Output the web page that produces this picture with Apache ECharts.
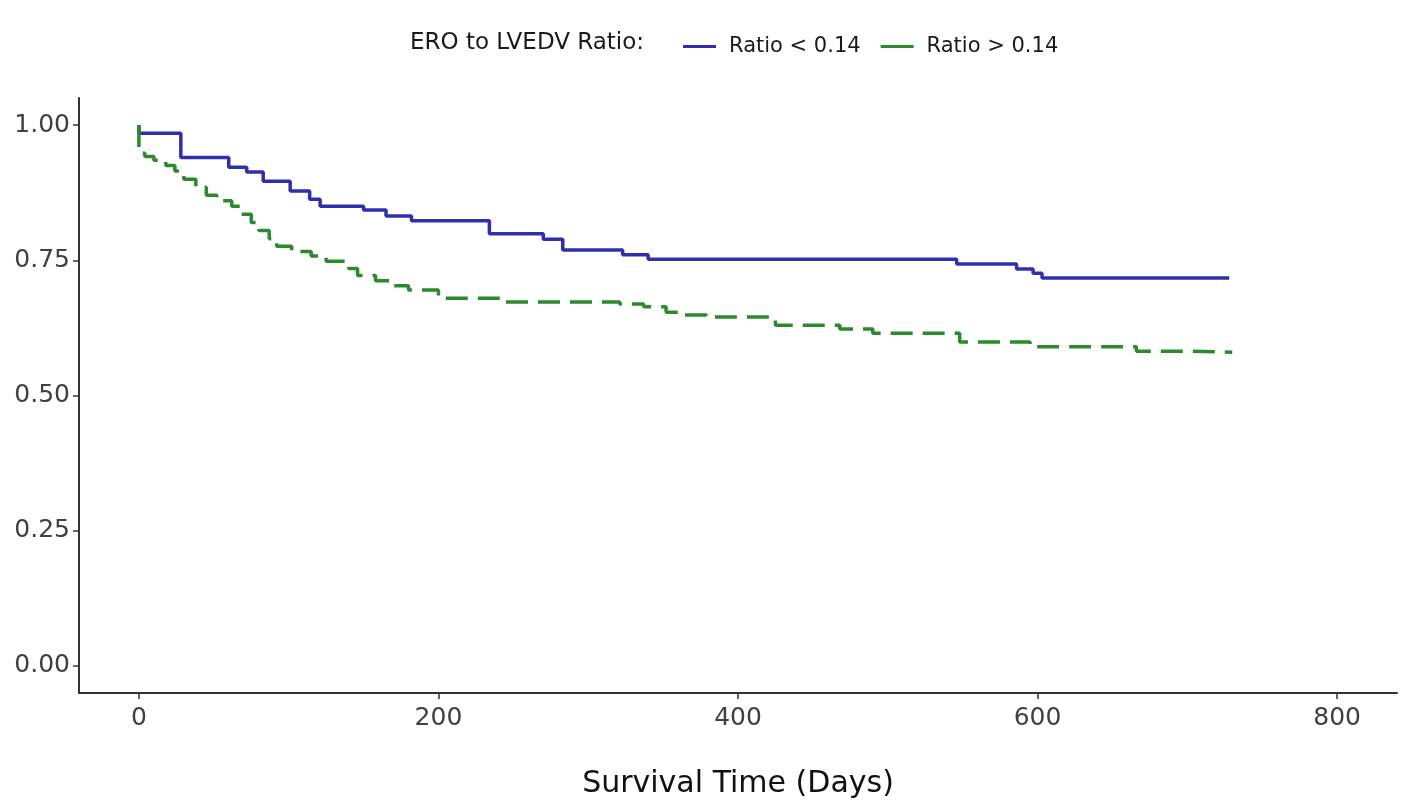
<!DOCTYPE html>
<html>
<head>
<meta charset="utf-8">
<script src="https://cdn.jsdelivr.net/npm/echarts@6/dist/echarts.min.js"></script>
<style>
html,body{margin:0;padding:0;background:#fff;}
#chart{width:1417px;height:808px;}
</style>
</head>
<body>
<div id="chart"></div>
<script>
// ---- Data ----
const legendTitle = 'ERO to LVEDV Ratio:';
const seriesNames = ['Ratio < 0.14', 'Ratio > 0.14'];

const lowTime = [0, 0, 28, 60, 72, 83, 101, 114, 121, 150, 165, 182, 234, 270, 283, 323, 340, 546, 586, 597, 603, 728];
const lowSurv = [1.0, 0.985, 0.940, 0.922, 0.913, 0.896, 0.878, 0.863, 0.850, 0.843, 0.832, 0.823, 0.799, 0.789, 0.769, 0.760, 0.752, 0.743, 0.734, 0.726, 0.717, 0.717];

const highTime = [0, 0, 4, 10, 18, 24, 30, 38, 45, 52, 62, 68, 75, 80, 87, 92, 102, 115, 125, 140, 146, 158, 170, 180, 200, 243, 321, 337, 352, 361, 379, 425, 468, 490, 548, 595, 666, 700, 730];
const highSurv = [1.0, 0.948, 0.942, 0.935, 0.925, 0.915, 0.900, 0.885, 0.870, 0.860, 0.850, 0.835, 0.820, 0.805, 0.790, 0.776, 0.766, 0.758, 0.748, 0.735, 0.722, 0.712, 0.703, 0.695, 0.680, 0.673, 0.669, 0.664, 0.654, 0.649, 0.645, 0.630, 0.623, 0.615, 0.599, 0.590, 0.582, 0.580, 0.579];

const xTicks = [0, 200, 400, 600, 800];
const yTicks = [0, 0.25, 0.5, 0.75, 1.0];
const xAxisTitle = 'Survival Time (Days)';

// ---- Build ----
const pairs = (t, s) => t.map((v, i) => [v, s[i]]);
const FONT = 'DejaVu Sans';
const axisColor = '#333333';
const labelColor = '#404040';

const chart = echarts.init(document.getElementById('chart'), null, {renderer: 'canvas'});
chart.setOption({
  animation: false,
  backgroundColor: '#ffffff',
  grid: {left: 79, right: 20, top: 98, bottom: 115, containLabel: false, outerBoundsMode: 'none'},
  legend: {
    data: seriesNames,
    left: 678,
    top: 31,
    icon: 'rect',
    itemWidth: 33,
    itemHeight: 3,
    itemGap: 20,
    textStyle: {fontFamily: FONT, fontSize: 21, color: '#1a1a1a', padding: [0, 0, 0, 8]}
  },
  graphic: [{
    type: 'text',
    left: 410,
    top: 32,
    style: {text: legendTitle, font: '23px "DejaVu Sans"', fill: '#1a1a1a'}
  }],
  xAxis: {
    type: 'value',
    min: -40,
    max: 840,
    name: xAxisTitle,
    nameLocation: 'middle',
    nameGap: 76,
    nameTextStyle: {fontFamily: FONT, fontSize: 30, color: '#111'},
    splitLine: {show: false},
    axisLine: {show: true, onZero: false, lineStyle: {color: axisColor, width: 2}},
    axisTick: {show: true, length: 6, customValues: xTicks, lineStyle: {color: axisColor, width: 1.5}},
    axisLabel: {customValues: xTicks, fontFamily: FONT, fontSize: 25, color: labelColor, margin: 13}
  },
  yAxis: {
    type: 'value',
    min: -0.05,
    max: 1.05,
    splitLine: {show: false},
    axisLine: {show: true, onZero: false, lineStyle: {color: axisColor, width: 2}},
    axisTick: {show: true, length: 6, customValues: yTicks, lineStyle: {color: axisColor, width: 1.5}},
    axisLabel: {customValues: yTicks, fontFamily: FONT, fontSize: 25, color: labelColor, margin: 9,
      formatter: v => v.toFixed(2)}
  },
  series: [
    {
      name: seriesNames[0],
      type: 'line',
      step: 'end',
      symbol: 'none',
      data: pairs(lowTime, lowSurv),
      itemStyle: {color: '#2f2fae'},
      lineStyle: {color: '#2f2fae', width: 3.5}
    },
    {
      name: seriesNames[1],
      type: 'line',
      step: 'end',
      symbol: 'none',
      data: pairs(highTime, highSurv),
      itemStyle: {color: '#2b8a2b'},
      lineStyle: {color: '#2b8a2b', width: 3.5, type: [22, 10]}
    }
  ]
});
</script>
</body>
</html>
